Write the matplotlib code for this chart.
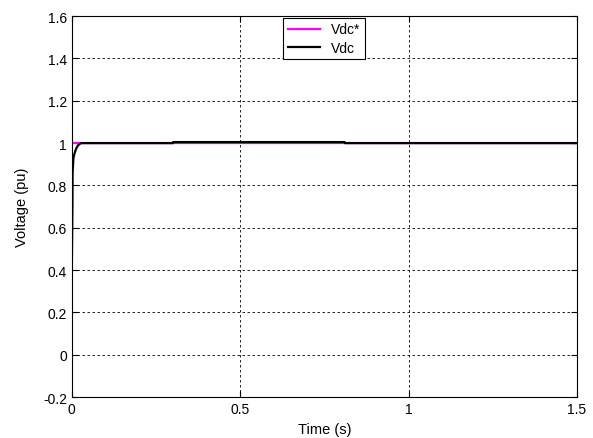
import matplotlib.pyplot as plt

plt.rcParams['font.family'] = ['Liberation Sans', 'DejaVu Sans']

# reference (Vdc*) and measured DC voltage (Vdc)
t_ref = [0.0, 1.5]
vdc_ref = [1.0, 1.0]

t_vdc = [0.0, 0.002, 0.0025, 0.005, 0.008, 0.011, 0.015, 0.019, 0.023, 0.027, 0.031,
         0.3, 0.301, 0.81, 0.811, 1.5]
vdc = [0.37, 0.7, 0.86, 0.93, 0.95, 0.965, 0.98, 0.99, 0.996, 0.999, 1.0,
       1.0, 1.005, 1.005, 1.0, 1.0]

fig = plt.figure(figsize=(5.93, 4.39), dpi=100)
ax = fig.add_axes([0.121, 0.093, 0.852, 0.868])

ax.plot(t_ref, vdc_ref, color='magenta', lw=1.6, label='Vdc*')
ax.plot(t_vdc, vdc, color='black', lw=1.6, label='Vdc')

ax.set_xlim(0, 1.5)
ax.set_ylim(-0.2, 1.6)
ax.set_xticks([0, 0.5, 1, 1.5])
ax.set_xticklabels(['0', '0.5', '1', '1.5'])
ax.set_yticks([-0.2, 0, 0.2, 0.4, 0.6, 0.8, 1, 1.2, 1.4, 1.6])
ax.set_yticklabels(['-0.2', '0', '0.2', '0.4', '0.6', '0.8', '1', '1.2', '1.4', '1.6'])
ax.tick_params(direction='in', labelsize=10, length=4, top=True, right=True)
ax.grid(True, color='black', linestyle=(0, (3, 3)), linewidth=0.6)

ax.set_xlabel('Time (s)', fontsize=10.5, labelpad=4.5)
ax.set_ylabel('Voltage (pu)', fontsize=10.5, labelpad=10)

leg = ax.legend(loc='upper center', fontsize=10, frameon=True, fancybox=False,
                edgecolor='black', framealpha=1, borderaxespad=0.1,
                handlelength=2.3, handletextpad=0.8, labelspacing=0.3, borderpad=0.35)
leg.get_frame().set_linewidth(0.8)

fig.savefig('out.png', dpi=100)
